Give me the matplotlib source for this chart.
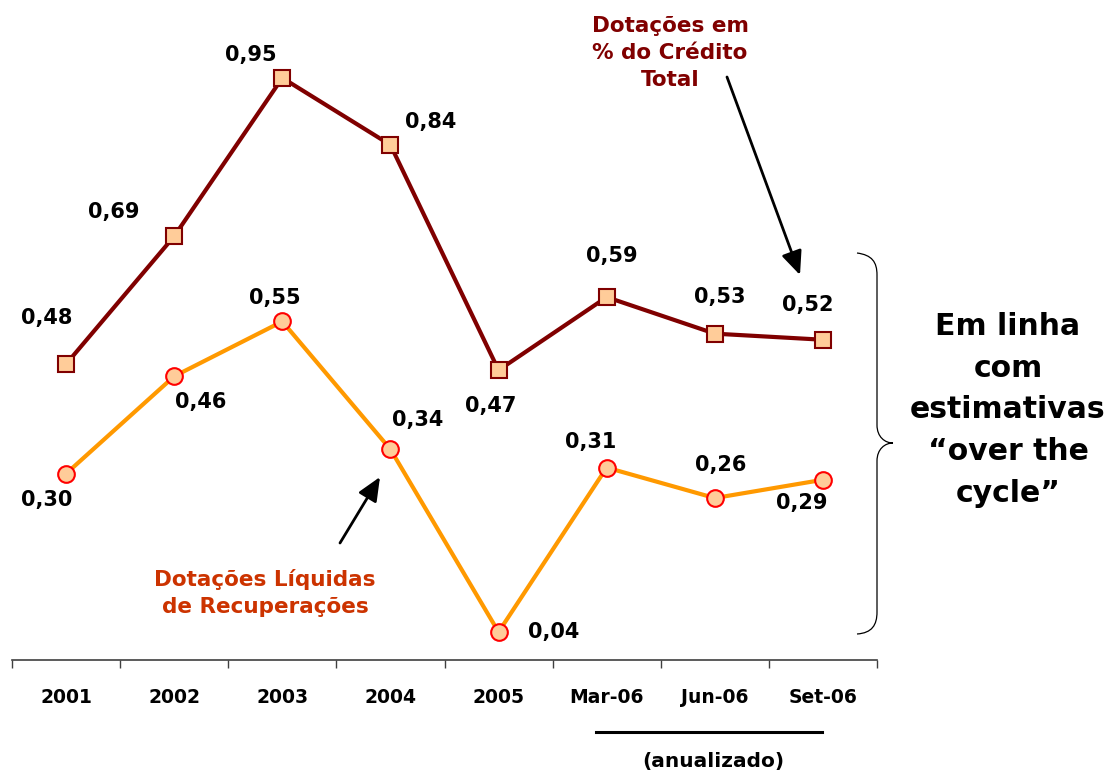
import matplotlib.pyplot as plt
from matplotlib.path import Path
from matplotlib.patches import PathPatch

plt.rcParams['font.family'] = ['DejaVu Sans']
plt.rcParams['font.weight'] = 'bold'

categorias = ['2001', '2002', '2003', '2004', '2005', 'Mar-06', 'Jun-06', 'Set-06']
dotacoes_credito = [0.48, 0.69, 0.95, 0.84, 0.47, 0.59, 0.53, 0.52]
dotacoes_liquidas = [0.30, 0.46, 0.55, 0.34, 0.04, 0.31, 0.26, 0.29]

# deslocamento dos rótulos em pixels (dx, dy), dy positivo = para baixo
offs_credito = [(-19, -46), (-60, -24), (-31, -23), (40, -23), (-8, 36), (5, -41), (5, -37), (-15, -35)]
offs_liquidas = [(-19, 26), (26, 26), (-8, -23), (27, -29), (55, 0), (-16, -26), (6, -33), (-21, 23)]

W, H = 1111, 774
fig = plt.figure(figsize=(W / 100, H / 100), dpi=100)
ax = fig.add_axes([12 / W, 1 - 660 / H, 865 / W, 660 / H])
x = list(range(len(categorias)))

ax.plot(x, dotacoes_credito, color='#800000', lw=3, marker='s', ms=12,
        mfc='#FFCC99', mec='#800000', mew=1.5, zorder=3)
ax.plot(x, dotacoes_liquidas, color='#FF9900', lw=3, marker='o', ms=12,
        mfc='#FFCC99', mec='#FF0000', mew=1.5, zorder=3)

for serie, offs in [(dotacoes_credito, offs_credito), (dotacoes_liquidas, offs_liquidas)]:
    for i, v in enumerate(serie):
        dx, dy = offs[i]
        ax.annotate(f'{v:.2f}'.replace('.', ','), (i, v), xytext=(dx, -dy),
                    textcoords='offset pixels', ha='center', va='center',
                    fontsize=15, fontweight='bold')

ax.set_xlim(-0.5, 7.5)
ax.set_ylim(-0.006, 1.078)
for s in ['top', 'left', 'right']:
    ax.spines[s].set_visible(False)
ax.spines['bottom'].set_color('#404040')
ax.spines['bottom'].set_linewidth(1.2)
ax.set_yticks([])
ax.set_xticks([i - 0.5 for i in range(9)])
ax.set_xticklabels([''] * 9)
ax.set_xticks(x, categorias, minor=True)
ax.tick_params(axis='x', which='major', length=6, width=1, color='#404040')
ax.tick_params(axis='x', which='minor', length=0, pad=20, labelsize=13.5)
ax.patch.set_alpha(0)

# camada de anotações em pixels
ov = fig.add_axes([0, 0, 1, 1])
ov.set_xlim(0, W)
ov.set_ylim(H, 0)
ov.axis('off')

seta = dict(arrowstyle='-|>,head_length=0.8,head_width=0.35',
            color='black', lw=2, mutation_scale=18, shrinkA=0, shrinkB=0)

ov.text(670, 53, 'Dotações em\n% do Crédito\nTotal', ha='center', va='center',
        color='#800000', fontsize=15.5, linespacing=1.45)
ov.annotate('', xy=(800, 275), xytext=(727, 77), arrowprops=seta)

ov.text(265, 593, 'Dotações Líquidas\nde Recuperações', ha='center', va='center',
        color='#CC3300', fontsize=15.5, linespacing=1.45)
ov.annotate('', xy=(380, 477), xytext=(340, 543), arrowprops=seta)

# chaveta
verts = [(857, 253), (872, 255), (877, 262), (877, 275),
         (877, 425), (877, 437), (885, 443), (893, 443),
         (885, 443), (877, 449), (877, 461),
         (877, 612), (877, 625), (872, 633), (857, 634)]
codes = [Path.MOVETO, Path.CURVE4, Path.CURVE4, Path.CURVE4,
         Path.LINETO, Path.CURVE4, Path.CURVE4, Path.CURVE4,
         Path.CURVE4, Path.CURVE4, Path.CURVE4,
         Path.LINETO, Path.CURVE4, Path.CURVE4, Path.CURVE4]
ov.add_patch(PathPatch(Path(verts, codes), fill=False, lw=0.9, edgecolor='black'))

ov.text(1008, 410, 'Em linha\ncom\nestimativas\n“over the\ncycle”', ha='center', va='center',
        fontsize=21.5, linespacing=1.55)

ov.plot([596, 822], [732, 732], color='black', lw=2.2)
ov.text(713, 762, '(anualizado)', ha='center', va='center', fontsize=14.5)

fig.savefig('out.png', dpi=100)
